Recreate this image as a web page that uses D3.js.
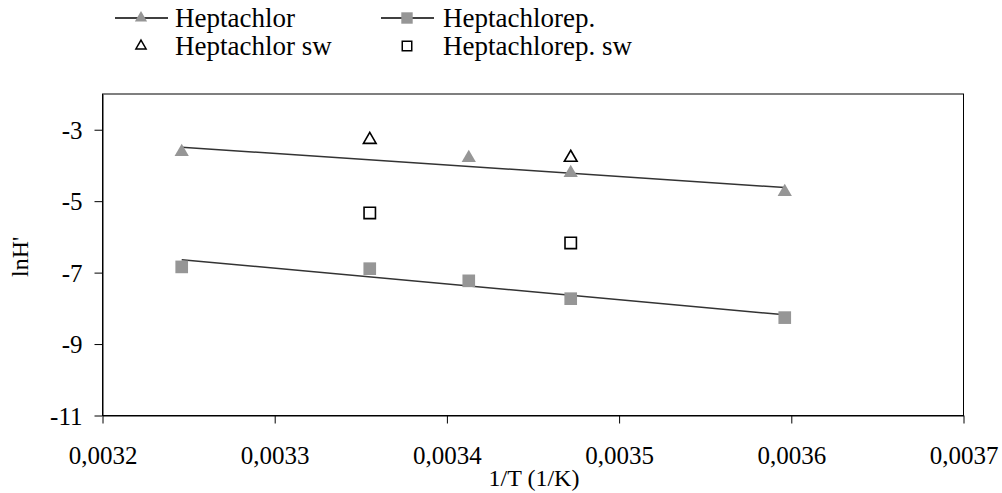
<!DOCTYPE html>
<html>
<head>
<meta charset="utf-8">
<script src="https://cdn.jsdelivr.net/npm/d3@7/dist/d3.min.js"></script>
<style>
  html, body { margin: 0; padding: 0; background: #fff; }
  svg { display: block; }
  text { font-family: "Liberation Serif", "Times New Roman", serif; fill: #000; }
</style>
</head>
<body>
<svg id="chart" width="1002" height="493"></svg>
<script>
// ---- Data ----
const heptX = [0.003246, 0.0034127, 0.0034719, 0.0035962];
const heptY = [-3.62, -3.79, -4.21, -4.74];

const heptEpX = [0.003246, 0.0033552, 0.0034127, 0.0034719, 0.0035962];
const heptEpY = [-6.84, -6.89, -7.23, -7.73, -8.26];

const heptSwX = [0.0033552, 0.0034719];
const heptSwY = [-3.28, -3.78];

const heptEpSwX = [0.0033552, 0.0034719];
const heptEpSwY = [-5.33, -6.17];

const xTicks = [0.0032, 0.0033, 0.0034, 0.0035, 0.0036, 0.0037];
const yTicks = [-11, -9, -7, -5, -3];
const xDomain = [0.0032, 0.0037];
const yDomain = [-11, -2];

const legendLabels = ["Heptachlor", "Heptachlorep.", "Heptachlor sw", "Heptachlorep. sw"];

// ---- Layout ----
const svg = d3.select("#chart");
const pL = 102.5, pR = 963.5, pT = 94, pB = 415.5;
const gray = "#969696";
const serif = "'Liberation Serif', 'Times New Roman', serif";

const x = d3.scaleLinear().domain(xDomain).range([pL, pR]);
const y = d3.scaleLinear().domain(yDomain).range([pB, pT]);

// Plot border
svg.append("rect")
  .attr("x", pL).attr("y", pT)
  .attr("width", pR - pL).attr("height", pB - pT)
  .attr("fill", "none").attr("stroke", "#000").attr("stroke-width", 1);

// Axes
const fmtX = d => d.toFixed(4).replace(".", ",");
const fmtY = d => String(d);
const xAxis = svg.append("g")
  .attr("transform", `translate(0,${pB})`)
  .call(d3.axisBottom(x).tickValues(xTicks).tickFormat(fmtX).tickSize(8).tickSizeOuter(0));
const yAxis = svg.append("g")
  .attr("transform", `translate(${pL},0)`)
  .call(d3.axisLeft(y).tickValues(yTicks).tickFormat(fmtY).tickSize(8).tickSizeOuter(0));

[xAxis, yAxis].forEach(g => {
  g.attr("font-family", serif).attr("font-size", 25);
  g.select(".domain").attr("stroke", "#000");
  g.selectAll(".tick line").attr("stroke", "#000");
  g.selectAll(".tick text")
    .attr("font-family", serif)
    .style("font-family", serif)
    .style("font-size", "25px")
    .attr("fill", "#000");
});
xAxis.selectAll(".tick text").attr("dy", "0").attr("y", 48);
yAxis.selectAll(".tick text").attr("x", -20).attr("dy", "0.35em");

// Axis titles
svg.append("text")
  .attr("x", (pL + pR) / 2 + 1).attr("y", 486)
  .attr("text-anchor", "middle")
  .style("font-size", "24px")
  .text("1/T (1/K)");
svg.append("text")
  .attr("transform", `translate(28,${(pT + pB) / 2 + 2}) rotate(-90)`)
  .attr("text-anchor", "middle")
  .style("font-size", "24px")
  .text("lnH'");

// Regression lines
function regression(xs, ys) {
  const n = xs.length;
  const mx = d3.mean(xs), my = d3.mean(ys);
  let sxy = 0, sxx = 0;
  for (let i = 0; i < n; i++) { sxy += (xs[i] - mx) * (ys[i] - my); sxx += (xs[i] - mx) ** 2; }
  const b = sxy / sxx, a = my - b * mx;
  const x0 = d3.min(xs), x1 = d3.max(xs);
  return [[x0, a + b * x0], [x1, a + b * x1]];
}
const line = d3.line().x(d => x(d[0])).y(d => y(d[1]));
[[heptX, heptY], [heptEpX, heptEpY]].forEach(([xs, ys]) => {
  svg.append("path")
    .attr("d", line(regression(xs, ys)))
    .attr("fill", "none").attr("stroke", "#333").attr("stroke-width", 1.5);
});

// Markers
const tri = d3.symbol().type(d3.symbolTriangle).size(88);
const sq = d3.symbol().type(d3.symbolSquare).size(160);
const triOpen = d3.symbol().type(d3.symbolTriangle).size(70);
const sqOpen = d3.symbol().type(d3.symbolSquare).size(130);

function plot(xs, ys, sym, fill, stroke) {
  svg.append("g").selectAll("path")
    .data(xs.map((v, i) => [v, ys[i]]))
    .join("path")
    .attr("transform", d => `translate(${x(d[0])},${y(d[1])})`)
    .attr("d", sym)
    .attr("fill", fill)
    .attr("stroke", stroke)
    .attr("stroke-width", stroke === "none" ? 0 : 1.6);
}
plot(heptX, heptY, tri, gray, "none");
plot(heptEpX, heptEpY, sq, gray, "none");
plot(heptSwX, heptSwY, triOpen, "none", "#000");
plot(heptEpSwX, heptEpSwY, sqOpen, "none", "#000");

// Legend
const legend = [
  { label: legendLabels[0], cx: 141, cy: 18, tx: 175, sym: d3.symbol().type(d3.symbolTriangle).size(65), fill: gray, stroke: "none", line: true },
  { label: legendLabels[1], cx: 407, cy: 18, tx: 443, sym: d3.symbol().type(d3.symbolSquare).size(130), fill: gray, stroke: "none", line: true },
  { label: legendLabels[2], cx: 141, cy: 46, tx: 175, sym: d3.symbol().type(d3.symbolTriangle).size(45), fill: "none", stroke: "#000", line: false },
  { label: legendLabels[3], cx: 407, cy: 46, tx: 443, sym: d3.symbol().type(d3.symbolSquare).size(90), fill: "none", stroke: "#000", line: false }
];
legend.forEach(l => {
  const g = svg.append("g");
  if (l.line) {
    g.append("line")
      .attr("x1", l.cx - 26).attr("x2", l.cx + 27)
      .attr("y1", l.cy).attr("y2", l.cy)
      .attr("stroke", "#000").attr("stroke-width", 1.3);
  }
  g.append("path")
    .attr("transform", `translate(${l.cx},${l.cy})`)
    .attr("d", l.sym)
    .attr("fill", l.fill).attr("stroke", l.stroke)
    .attr("stroke-width", l.stroke === "none" ? 0 : 1.5);
  g.append("text")
    .attr("x", l.tx).attr("y", l.cy)
    .attr("dy", "0.35em")
    .style("font-size", "27px")
    .text(l.label);
});
</script>
</body>
</html>
